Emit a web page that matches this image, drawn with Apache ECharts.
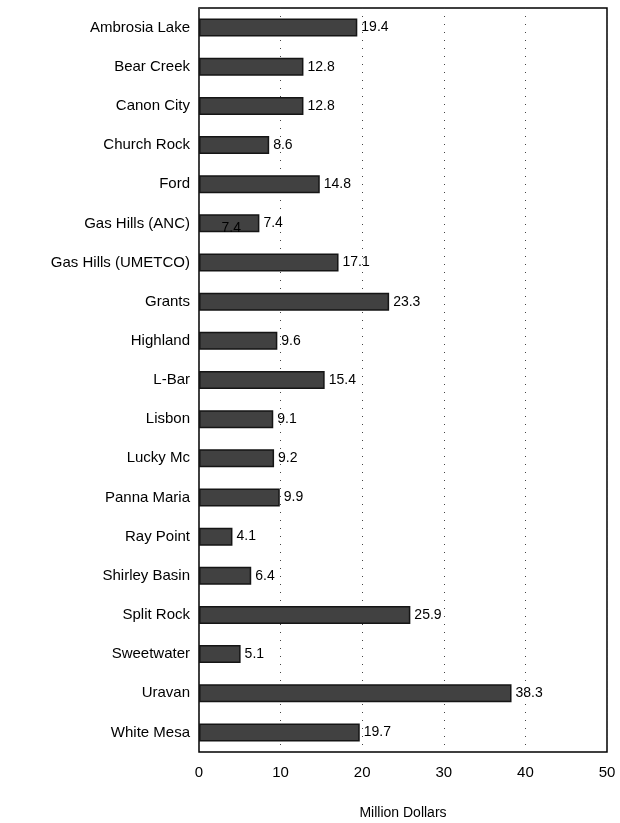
<!DOCTYPE html>
<html>
<head>
<meta charset="utf-8">
<style>
  html, body { margin: 0; padding: 0; background: #fff; }
  #chart { width: 620px; height: 823px; }
</style>
<script src="https://cdn.jsdelivr.net/npm/echarts@6/dist/echarts.min.js"></script>
</head>
<body>
<div id="chart"></div>
<script>
// sites, top to bottom
const sites = [
  "Ambrosia Lake", "Bear Creek", "Canon City", "Church Rock", "Ford",
  "Gas Hills (ANC)", "Gas Hills (UMETCO)", "Grants", "Highland", "L-Bar",
  "Lisbon", "Lucky Mc", "Panna Maria", "Ray Point", "Shirley Basin",
  "Split Rock", "Sweetwater", "Uravan", "White Mesa"
];
const costs = [
  19.4, 12.8, 12.8, 8.6, 14.8,
  7.4, 17.1, 23.3, 9.6, 15.4,
  9.1, 9.2, 9.9, 4.1, 6.4,
  25.9, 5.1, 38.3, 19.7
];
const xTicks = [0, 10, 20, 30, 40, 50];

const font = "Liberation Sans, Arial, sans-serif";

// the stray label drawn inside the Gas Hills (ANC) bar
const innerLabel = sites.map((s, i) => (s === "Gas Hills (ANC)" ? costs[i] : null));

const chart = echarts.init(document.getElementById("chart"));

chart.setOption({
  animation: false,
  grid: {
    left: 199,
    right: 13,
    top: 8,
    bottom: 71,
    outerBoundsMode: "none",
    show: true,
    borderColor: "#000",
    borderWidth: 1.5,
  },
  xAxis: {
    type: "value",
    min: xTicks[0],
    max: xTicks[xTicks.length - 1],
    interval: 10,
    name: "Million Dollars",
    nameLocation: "middle",
    nameGap: 54,
    nameTextStyle: { fontFamily: font, fontSize: 14, color: "#000" },
    axisLine: { show: false },
    axisTick: { show: false },
    axisLabel: { fontFamily: font, fontSize: 15, color: "#000", margin: 13 },
    splitLine: {
      show: true,
      lineStyle: { color: "#444", type: [1, 7], width: 1 },
    },
  },
  yAxis: {
    type: "category",
    data: sites,
    inverse: true,
    axisLine: { show: false },
    axisTick: { show: false },
    axisLabel: { fontFamily: font, fontSize: 15, color: "#000", margin: 9 },
  },
  series: [
    {
      type: "bar",
      data: costs,
      barWidth: 18,
      itemStyle: {
        color: "#414141",
        borderColor: "#151515",
        borderWidth: 1.5,
      },
      label: {
        show: true,
        position: "right",
        distance: 4,
        fontFamily: font,
        fontSize: 14,
        color: "#000",
      },
    },
    {
      type: "bar",
      data: innerLabel,
      barWidth: 18,
      barGap: "-100%",
      silent: true,
      itemStyle: { color: "transparent" },
      label: {
        show: true,
        position: "inside",
        offset: [2, 5],
        fontFamily: font,
        fontSize: 14,
        color: "#000",
      },
    },
  ],
});
</script>
</body>
</html>
